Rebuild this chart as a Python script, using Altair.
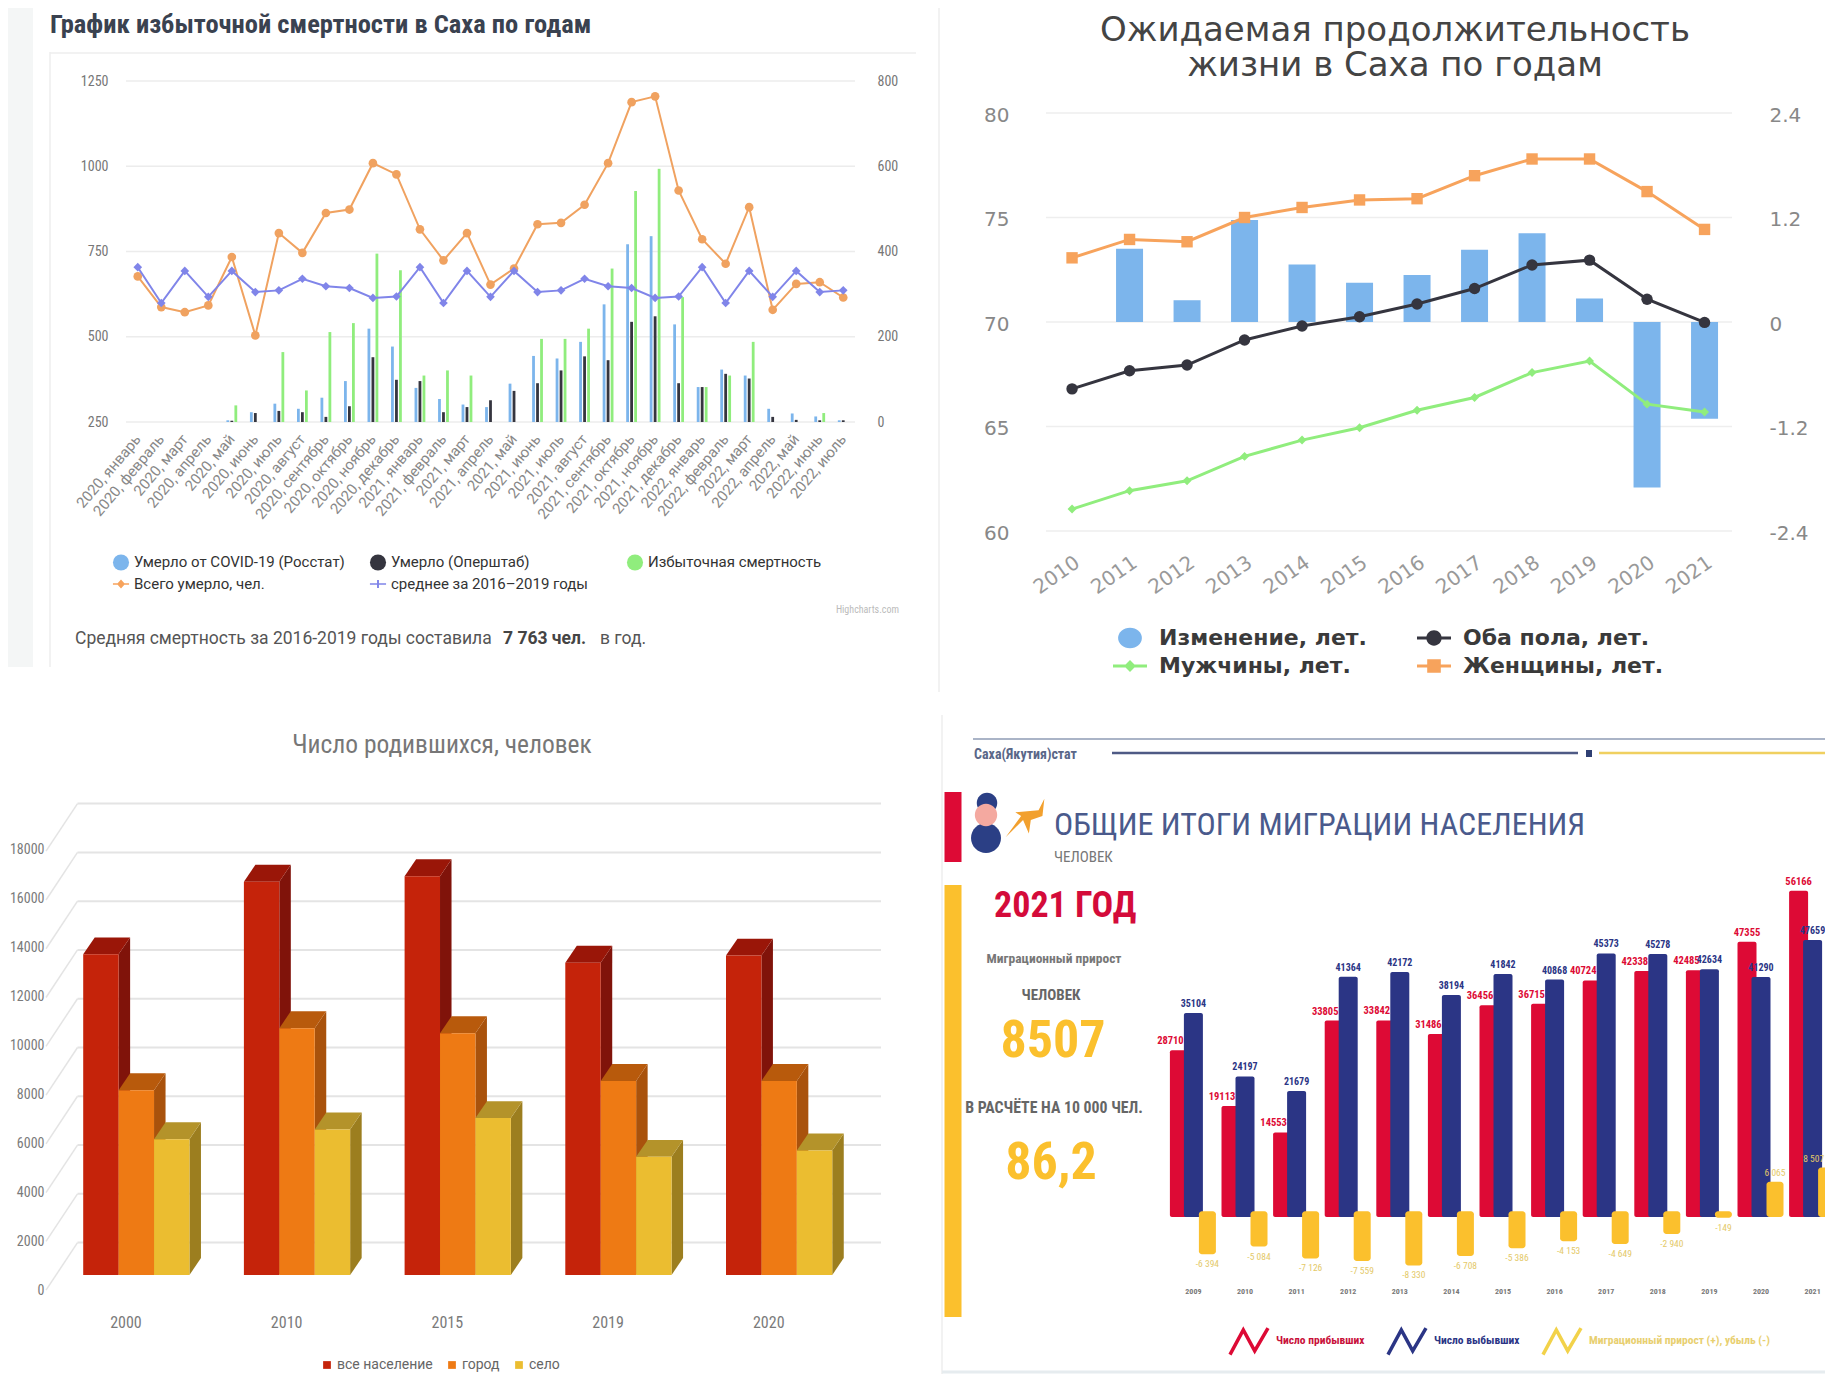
import altair as alt
import pandas as pd

W, H = 1817, 1366
def px(v): return v - 8
def py(v): return v - 8

# ---------- panel A: excess mortality ----------
a_months = ["январь","февраль","март","апрель","май","июнь","июль","август","сентябрь","октябрь","ноябрь","декабрь"]
a_cats = [f"2020, {m}" for m in a_months] + [f"2021, {m}" for m in a_months] + [f"2022, {m}" for m in a_months[:7]]
a_total = [677,587,572,592,734,504,804,746,863,873,1009,976,815,724,804,653,700,830,834,887,1009,1188,1205,929,786,714,880,579,655,660,615]
a_avg = [704,599,693,617,693,631,636,670,648,643,614,618,704,599,693,617,693,631,636,670,648,643,614,618,704,599,693,617,693,631,636]
a_rosstat = [None,None,None,None,4,23,43,31,57,96,219,177,80,54,41,35,90,155,149,188,276,417,436,229,82,123,109,31,20,13,4]
a_oper = [None,None,None,None,3,21,26,23,12,37,152,99,96,23,35,51,73,91,121,154,145,235,248,91,82,113,102,12,5,4,4]
a_excess = [None,None,None,None,39,None,164,74,211,232,395,356,109,121,109,None,None,195,195,219,360,542,594,293,82,109,188,None,None,21,None]
a_left_ticks = [250,500,750,1000,1250]
a_right_ticks = [0,200,400,600,800]
a_names = ["Умерло от COVID-19 (Росстат)","Умерло (Оперштаб)","Избыточная смертность","Всего умерло, чел.","среднее за 2016–2019 годы"]

# ---------- panel B: life expectancy ----------
b_years = [str(y) for y in range(2010, 2022)]
b_women = [73.07,73.95,73.84,75.0,75.48,75.84,75.9,77.0,77.8,77.8,76.24,74.43]
b_both = [66.8,67.67,67.94,69.14,69.81,70.25,70.86,71.6,72.73,72.96,71.09,69.98]
b_men = [61.05,61.93,62.4,63.57,64.35,64.94,65.78,66.39,67.58,68.13,66.07,65.69]
b_change = [None,0.84,0.25,1.17,0.66,0.45,0.54,0.83,1.02,0.27,-1.9,-1.11]
b_left_ticks = [60,65,70,75,80]
b_right_ticks = [-2.4,-1.2,0,1.2,2.4]
b_names = ["Изменение, лет.","Оба пола, лет.","Мужчины, лет.","Женщины, лет."]

# ---------- panel C: births ----------
c_years = ["2000","2010","2015","2019","2020"]
c_all = [13150,16124,16349,12803,13097]
c_city = [7578,10121,9913,7958,7958]
c_village = [5571,5969,6436,4844,5104]
c_ticks = list(range(0, 18001, 2000))
c_names = ["все население","город","село"]

# ---------- panel D: migration ----------
d_years = [str(y) for y in range(2009, 2022)]
d_in = [28710,19113,14553,33805,33842,31486,36456,36715,40724,42338,42485,47355,56166]
d_out = [35104,24197,21679,41364,42172,38194,41842,40868,45373,45278,42634,41290,47659]
d_net = [-6394,-5084,-7126,-7559,-8330,-6708,-5386,-4153,-4649,-2940,-149,6065,8507]
d_net_text = ["-6 394","-5 084","-7 126","-7 559","-8 330","-6 708","-5 386","-4 153","-4 649","-2 940","-149","6 065","8 507"]
d_names = ["Число прибывших","Число выбывших","Миграционный прирост (+), убыль (-)"]

NARROW = "Liberation Sans Narrow, Roboto Condensed, DejaVu Sans Condensed, Roboto"
HC_BLUE, HC_DARK, HC_GREEN, HC_ORANGE, HC_PURPLE = "#7cb5ec", "#35353f", "#90ed7d", "#f7a35c", "#8085e9"
layers = []

def note(text, x, y, size, color, font="Roboto", weight="normal", align="left", opacity=1):
    layers.append(alt.Chart(alt.Data(values=[{"t": text}])).mark_text(
        font=font, fontSize=size, color=color, fontWeight=weight, align=align,
        baseline="middle", opacity=opacity
    ).encode(text="t:N", x=alt.value(px(x)), y=alt.value(py(y))))

def box(x0, x1, y0, y1, color):
    layers.append(alt.Chart(alt.Data(values=[{"t": 1}])).mark_rect(color=color).encode(
        x=alt.value(px(x0)), x2=alt.value(px(x1)), y=alt.value(py(y0)), y2=alt.value(py(y1))))

def hline(x0, x1, y, color, w=1.5):
    layers.append(alt.Chart(alt.Data(values=[{"t": 1}])).mark_rule(color=color, strokeWidth=w).encode(
        x=alt.value(px(x0)), x2=alt.value(px(x1)), y=alt.value(py(y))))

def vline(x, y0, y1, color, w=1.5):
    layers.append(alt.Chart(alt.Data(values=[{"t": 1}])).mark_rule(color=color, strokeWidth=w).encode(
        x=alt.value(px(x)), y=alt.value(py(y0)), y2=alt.value(py(y1))))

def glyph(path, x, y, size, color):
    layers.append(alt.Chart(alt.Data(values=[{"t": 1}])).mark_point(
        shape=path, size=size, filled=True, color=color, opacity=1
    ).encode(x=alt.value(px(x)), y=alt.value(py(y))))

def grid(ticks, scale, x0, x1, color, axis=None, w=1.5):
    layers.append(alt.Chart(pd.DataFrame({"v": ticks})).mark_rule(color=color, strokeWidth=w).encode(
        y=alt.Y("v:Q", scale=scale, axis=axis, title=None),
        x=alt.value(px(x0)), x2=alt.value(px(x1))))

def legend_layer(names, colors, shapes, **kw):
    df = pd.DataFrame({"s": names})
    filled = kw.pop("filled", True)
    leg = alt.Legend(title=None, orient="none", direction="horizontal", symbolOpacity=1, labelLimit=500, **kw)
    layers.append(alt.Chart(df).mark_point(filled=filled, opacity=0).encode(
        x=alt.value(0), y=alt.value(0),
        color=alt.Color("s:N", scale=alt.Scale(domain=names, range=colors), legend=leg),
        shape=alt.Shape("s:N", scale=alt.Scale(domain=names, range=shapes), legend=leg)))

# ===== frames =====
box(0, 33, 0, 667, "#f4f6f6")
vline(50, 52, 667, "#eeeeee")
hline(50, 916, 53, "#eeeeee")
vline(939, 0, 692, "#eeeeee")
vline(942, 715, 1382, "#eeeeee")
hline(942, 1833, 1372, "#e6ecef", 3)

# ===== Panel A =====
note("График избыточной смертности в Саха по годам", 50, 25, 26.5, "#3a4250", font=NARROW, weight="bold")
ax_a = alt.Scale(type="band", domain=a_cats, range=[px(126), px(855)], paddingInner=0, paddingOuter=0)
yl_a = alt.Scale(domain=[250, 1250], range=[py(422), py(81)], nice=False, zero=False)
yr_a = alt.Scale(domain=[0, 800], range=[py(422), py(81)], nice=False)
grid(a_left_ticks, yl_a, 126, 855, "#ececec", axis=alt.Axis(
    orient="left", offset=-px(108), values=a_left_ticks, domain=False, ticks=False, grid=False, format="d",
    labelPadding=0, labelFont=NARROW, labelFontSize=14, labelColor="#777777"))
grid(a_right_ticks, yr_a, 126, 855, "#ececec00", axis=alt.Axis(
    orient="right", offset=px(877) - W, values=a_right_ticks, domain=False, ticks=False, grid=False,
    labelPadding=0, labelFont=NARROW, labelFontSize=14, labelColor="#777777"))
for vals, col, off, has_axis in [(a_rosstat, HC_BLUE, -4, True), (a_oper, HC_DARK, 0, False), (a_excess, HC_GREEN, 4, False)]:
    df = pd.DataFrame({"c": a_cats, "v": vals}).dropna()
    xax = alt.Axis(orient="bottom", offset=py(436) - H, labelAngle=310, domain=False, ticks=False, grid=False,
                   labelPadding=0, labelFont="Roboto", labelFontSize=15, labelColor="#888888",
                   labelOverlap=False, labelBound=False, labelFlush=False, values=a_cats) if has_axis else None
    layers.append(alt.Chart(df).mark_bar(width=2.8, xOffset=off, color=col).encode(
        x=alt.X("c:N", scale=ax_a, axis=xax, title=None, sort=None),
        y=alt.Y("v:Q", scale=yr_a, axis=None, stack=None)))
for vals, col, shape in [(a_total, "#f0a260", "circle"), (a_avg, HC_PURPLE, "diamond")]:
    df = pd.DataFrame({"c": a_cats, "v": vals})
    base = alt.Chart(df).encode(x=alt.X("c:N", scale=ax_a, axis=None, sort=None),
                                y=alt.Y("v:Q", scale=yl_a, axis=None))
    layers.append(base.mark_line(color=col, strokeWidth=2))
    layers.append(base.mark_point(color=col, filled=True, opacity=1, size=75, shape=shape))
LINE = "M-1,-0.09H1V0.09H-1Z"
a_shapes = ["circle", "circle", "circle",
            LINE + "M0,-0.55L0.5,0L0,0.55L-0.5,0Z",
            LINE + "M-0.12,-0.5H0.12V0.5H-0.12Z"]
legend_layer(a_names, [HC_BLUE, HC_DARK, HC_GREEN, HC_ORANGE, HC_PURPLE], a_shapes,
             legendX=px(112), legendY=py(553), columns=3, columnPadding=21, rowPadding=1, gridAlign="all",
             symbolSize=260, labelFont="Roboto", labelFontSize=15, labelColor="#333333", labelOffset=4)
note("Highcharts.com", 899, 610, 10, "#bbbbbb", font=NARROW, align="right")
note("Средняя смертность за 2016-2019 годы составила", 75, 639, 17.5, "#555555")
note("7 763 чел.", 503, 639, 17.5, "#444444", weight="bold")
note("в год.", 600, 639, 17.5, "#555555")

# ===== Panel B =====
FB = "DejaVu Sans"
note("Ожидаемая продолжительность", 1395, 31, 34, "#444444", font=FB, align="center")
note("жизни в Саха по годам", 1395, 66, 34, "#444444", font=FB, align="center")
x_b = alt.Scale(type="band", domain=b_years, range=[px(1043.3), px(1733.3)], paddingInner=0, paddingOuter=0)
yl_b = alt.Scale(domain=[60, 80], range=[py(531), py(113)], nice=False, zero=False)
yr_b = alt.Scale(domain=[-2.4, 2.4], range=[py(531), py(113)], nice=False, zero=False)
grid(b_left_ticks, yl_b, 1046, 1732, "#eeeeee", axis=alt.Axis(
    orient="left", offset=-px(1009), values=b_left_ticks, domain=False, ticks=False, grid=False,
    labelPadding=0, labelOffset=2, labelFont=FB, labelFontSize=20, labelColor="#888888"))
grid(b_right_ticks, yr_b, 1046, 1732, "#eeeeee00", axis=alt.Axis(
    orient="right", offset=px(1769) - W, values=b_right_ticks, domain=False, ticks=False, grid=False,
    labelPadding=0, labelOffset=2, labelFont=FB, labelFontSize=20, labelColor="#888888",
    labelExpr="'' + datum.value"))
df = pd.DataFrame({"c": b_years, "v": b_change}).dropna()
layers.append(alt.Chart(df).mark_bar(width=27, color=HC_BLUE).encode(
    x=alt.X("c:N", scale=x_b, title=None, sort=None, axis=alt.Axis(
        orient="bottom", offset=py(552) - H, labelAngle=325, domain=False, ticks=False, grid=False,
        labelPadding=0, labelFont=FB, labelFontSize=20, labelColor="#999999",
        labelOverlap=False, labelBound=False, labelFlush=False, values=b_years)),
    y=alt.Y("v:Q", scale=yr_b, axis=None, stack=None)))
for vals, col, shape, size in [(b_women, HC_ORANGE, "square", 130), (b_both, HC_DARK, "circle", 130), (b_men, HC_GREEN, "diamond", 80)]:
    df = pd.DataFrame({"c": b_years, "v": vals})
    base = alt.Chart(df).encode(x=alt.X("c:N", scale=x_b, axis=None, sort=None),
                                y=alt.Y("v:Q", scale=yl_b, axis=None))
    layers.append(base.mark_line(color=col, strokeWidth=3))
    layers.append(base.mark_point(color=col, filled=True, opacity=1, size=size, shape=shape))
b_shapes = ["M-0.7,0A0.7,0.6,0,1,1,0.7,0A0.7,0.6,0,1,1,-0.7,0Z",
            LINE + "M-0.45,0A0.45,0.45,0,1,1,0.45,0A0.45,0.45,0,1,1,-0.45,0Z",
            LINE + "M0,-0.35L0.35,0L0,0.35L-0.35,0Z",
            LINE + "M-0.4,-0.4H0.4V0.4H-0.4Z"]
legend_layer(b_names, [HC_BLUE, HC_DARK, HC_GREEN, HC_ORANGE], b_shapes,
             legendX=px(1113), legendY=py(621), columns=2, columnPadding=50, rowPadding=-1,
             symbolSize=1156, symbolStrokeWidth=0, labelFont=FB, labelFontSize=22, labelFontWeight="bold",
             labelColor="#3a3a3a", labelOffset=12)

# ===== Panel C =====
note("Число родившихся, человек", 442, 745, 25.5, "#777777", font=NARROW, align="center")
y_front = alt.Scale(domain=[0, 18000], range=[py(1290), py(849)], nice=False)
y_back = alt.Scale(domain=[0, 18000], range=[py(1242.6), py(803.6)], nice=False, zero=False)
y_bar = alt.Scale(domain=[0, 18000], range=[py(1275), py(836)], nice=False)
x_c = alt.Scale(domain=[0, 5], range=[px(83.2), px(886.7)], nice=False, zero=False)
grid(c_ticks, y_front, 46, 47, "#ffffff00", axis=alt.Axis(
    orient="left", offset=-px(44), values=c_ticks, domain=False, ticks=False, grid=False, format="d",
    labelPadding=0, labelFont=NARROW, labelFontSize=14, labelColor="#7a7a7a"))
grid(c_ticks, y_back, 77.5, 881, "#e4e4e4", w=2)
diag_shift = 47.6 / (439 / 18000)
layers.append(alt.Chart(pd.DataFrame({"v": c_ticks, "w": [t - diag_shift for t in c_ticks]})).mark_rule(
    color="#e4e4e4", strokeWidth=1.5).encode(
    y=alt.Y("v:Q", scale=y_back, axis=None), y2="w:Q",
    x=alt.value(px(77.5)), x2=alt.value(px(46))))
layers.append(alt.Chart(pd.DataFrame({"c": c_years})).mark_tick(opacity=0).encode(
    x=alt.X("c:N", title=None, sort=None,
            scale=alt.Scale(type="band", domain=c_years, range=[px(45.6), px(849.1)], paddingInner=0, paddingOuter=0),
            axis=alt.Axis(orient="bottom", offset=py(1314) - H, labelAngle=0, domain=False, ticks=False, grid=False,
                          labelPadding=0, labelFont=NARROW, labelFontSize=16, labelColor="#7a7a7a",
                          labelOverlap=False, labelBound=False, labelFlush=False)),
    y=alt.value(0)))
BW, DX = 0.2204, 0.0716
DY = 16.9 / (439 / 18000)
for j, (vals, front, side, top) in enumerate([
    (c_all, "#c5230a", "#80130a", "#9a1608"),
    (c_city, "#ee7a14", "#a9520c", "#b85a0c"),
    (c_village, "#ebbd30", "#9c7e1f", "#b4932a")]):
    side_rows, top_rows, front_rows = [], [], []
    for i, v in enumerate(vals):
        a0 = i + j * BW
        a1 = a0 + BW
        side_rows += [{"id": i, "x": a1, "y": v, "y2": 0}, {"id": i, "x": a1 + DX, "y": v + DY, "y2": DY}]
        top_rows += [{"id": i, "x": a0, "y": v, "y2": v}, {"id": i, "x": a0 + DX, "y": v + DY, "y2": v},
                     {"id": i, "x": a1, "y": v + DY, "y2": v}, {"id": i, "x": a1 + DX, "y": v + DY, "y2": v + DY}]
        front_rows.append({"x": a0, "x2": a1, "y": v})
    for rows, col in [(side_rows, side), (top_rows, top)]:
        layers.append(alt.Chart(pd.DataFrame(rows)).mark_area(color=col, opacity=1).encode(
            x=alt.X("x:Q", scale=x_c, axis=None),
            y=alt.Y("y:Q", scale=y_bar, axis=None, stack=None), y2="y2:Q", detail="id:N"))
    layers.append(alt.Chart(pd.DataFrame(front_rows)).mark_rect(color=front).encode(
        x=alt.X("x:Q", scale=x_c, axis=None), x2="x2:Q",
        y=alt.Y("y:Q", scale=y_bar, axis=None, stack=None), y2=alt.datum(0)))
legend_layer(c_names, ["#c5230a", "#ee7a14", "#ebbd30"], ["square", "square", "square"],
             legendX=px(320), legendY=py(1358), columns=3, columnPadding=12, symbolSize=60,
             labelFont="Roboto", labelFontSize=14, labelColor="#666666", labelOffset=3)

# ===== Panel D =====
hline(973, 1833, 739, "#8e9bb5", 1.5)
note("Саха(Якутия)стат", 974, 755, 14, "#5a6788", font=NARROW, weight="bold")
hline(1112, 1578, 753, "#4e5a85", 2.5)
box(1586, 1592, 750, 757, "#2f3f73")
hline(1599, 1833, 753, "#f0d060", 2.5)
box(944.5, 961.5, 792, 862, "#dd0a35")
box(944.5, 961.5, 885, 1317, "#fbc02d")
ELL = "M-1,0A1,1,0,1,1,1,0A1,1,0,1,1,-1,0Z"
glyph(ELL, 986, 838, 900, "#2b3f85")
glyph(ELL, 987, 803, 420, "#2b3f85")
glyph(ELL, 986, 815, 500, "#f4a9a0")
glyph("M-1,1L-0.2,-0.1L-0.5,-0.3L0.7,-0.4L1,-1L0.9,-0.1L0.3,0.1L0.2,0.8L-0.1,0.1Z", 1025, 818, 1500, "#f2a02e")
note("ОБЩИЕ ИТОГИ МИГРАЦИИ НАСЕЛЕНИЯ", 1054, 825, 32, "#4a5a8c", font=NARROW)
note("ЧЕЛОВЕК", 1054, 857, 15, "#777777", font=NARROW)
note("2021 ГОД", 994, 906, 36, "#d40b3a", font=NARROW, weight="bold")
note("Миграционный прирост", 1054, 959, 13.5, "#777777", font=NARROW, weight="bold", align="center")
note("ЧЕЛОВЕК", 1051, 995, 15, "#666666", font=NARROW, weight="bold", align="center")
note("8507", 1053, 1041, 52, "#fbc02d", font=NARROW, weight="bold", align="center")
note("В РАСЧЁТЕ НА 10 000 ЧЕЛ.", 1054, 1108, 15.8, "#666666", font=NARROW, weight="bold", align="center")
note("86,2", 1051, 1163, 52, "#fbc02d", font=NARROW, weight="bold", align="center")

x_d = alt.Scale(type="band", domain=d_years, range=[px(1167.6), px(1838.4)], paddingInner=0, paddingOuter=0)
y_d = alt.Scale(domain=[0, 50000], range=[py(1217), py(926.5)], nice=False, zero=False)
df_d = pd.DataFrame({"c": d_years, "i": d_in, "o": d_out, "n": d_net, "t": d_net_text})
df_d["n0"] = [1000 if v < 0 else 0 for v in d_net]
RED, NAVY, YEL = "#dd0a35", "#2b3585", "#fbc02d"
layers.append(alt.Chart(df_d).mark_bar(width=19, xOffset=-14, color=RED, cornerRadius=2).encode(
    x=alt.X("c:N", scale=x_d, title=None, sort=None, axis=alt.Axis(
        orient="bottom", offset=py(1287) - H, labelAngle=0, domain=False, ticks=False, grid=False,
        labelPadding=0, labelFont=NARROW, labelFontSize=8, labelFontWeight="bold", labelColor="#777777",
        labelOverlap=False, labelBound=False, labelFlush=False)),
    y=alt.Y("i:Q", scale=y_d, axis=None, stack=None)))
layers.append(alt.Chart(df_d).mark_bar(width=19, color=NAVY, cornerRadius=2).encode(
    x=alt.X("c:N", scale=x_d, axis=None, sort=None),
    y=alt.Y("o:Q", scale=y_d, axis=None, stack=None)))
layers.append(alt.Chart(df_d).mark_bar(width=17, xOffset=14, color=YEL, cornerRadius=3).encode(
    x=alt.X("c:N", scale=x_d, axis=None, sort=None),
    y=alt.Y("n:Q", scale=y_d, axis=None, stack=None), y2="n0:Q"))
layers.append(alt.Chart(df_d[df_d.n < 0]).mark_text(dx=14, dy=10, font=NARROW, fontSize=9.5, color="#e4c968").encode(
    x=alt.X("c:N", scale=x_d, axis=None, sort=None), y=alt.Y("n:Q", scale=y_d, axis=None, stack=None), text="t:N"))
for frame, dx in [(df_d.iloc[11:12], 14), (df_d.iloc[12:], 1)]:
    layers.append(alt.Chart(frame).mark_text(dx=dx, dy=-9, font=NARROW, fontSize=9.5, color="#e4c968").encode(
        x=alt.X("c:N", scale=x_d, axis=None, sort=None), y=alt.Y("n:Q", scale=y_d, axis=None, stack=None), text="t:N"))
for frame, dx in [(df_d.iloc[:11], -23), (df_d.iloc[11:], -14)]:
    layers.append(alt.Chart(frame).mark_text(dx=dx, dy=-9, font=NARROW, fontSize=10.5, fontWeight="bold", color=RED).encode(
        x=alt.X("c:N", scale=x_d, axis=None, sort=None), y=alt.Y("i:Q", scale=y_d, axis=None, stack=None), text="i:N"))
layers.append(alt.Chart(df_d).mark_text(dy=-9, font=NARROW, fontSize=10, color=NAVY, fontWeight="bold").encode(
    x=alt.X("c:N", scale=x_d, axis=None, sort=None), y=alt.Y("o:Q", scale=y_d, axis=None, stack=None), text="o:N"))
ZIG = "M-1,0.7L-0.3,-0.6L0.3,0.5L1,-0.7"
legend_layer(d_names, [RED, NAVY, "#f2d24a"], [ZIG, ZIG, ZIG], filled=False,
             legendX=px(1228), legendY=py(1320), columns=3, columnPadding=16,
             symbolSize=1444, symbolStrokeWidth=3.5, labelFont=NARROW, labelFontSize=11.5, labelFontWeight="bold",
             labelColor={"expr": "datum.label == 'Число прибывших' ? '#c8103a' : datum.label == 'Число выбывших' ? '#2b3585' : '#e8cf70'"},
             labelOffset=6)

chart = alt.layer(*layers).resolve_scale(
    x="independent", y="independent", color="independent", shape="independent"
).properties(
    width=W, height=H, padding=0, autosize=alt.AutoSizeParams(type="none"), background="white"
).configure_view(stroke=None)

chart.save("out.html", embed_options={"renderer": "svg", "actions": False})
